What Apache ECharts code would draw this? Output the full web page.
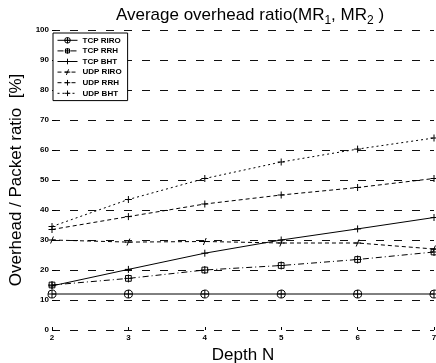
<!DOCTYPE html>
<html><head><meta charset="utf-8">
<script src="https://cdn.jsdelivr.net/npm/echarts@6/dist/echarts.min.js"></script>
<style>html,body{margin:0;padding:0;background:#fff}#c{width:436px;height:363px}</style>
</head><body><div id="c"></div>
<script>
const depths = [2, 3, 4, 5, 6, 7];
const tcpRIRO = [12, 12, 12, 12, 12, 12];
const tcpRRH  = [15, 17.2, 20, 21.5, 23.5, 26];
const tcpBHT  = [14.7, 20.2, 25.6, 30, 33.7, 37.5];
const udpRIRO = [30, 29.3, 29.5, 29, 29, 27];
const udpRRH  = [33.5, 37.8, 42, 45, 47.5, 50.5];
const udpBHT  = [34.5, 43.5, 50.5, 56, 60.3, 64];
const seriesNames = ['TCP RIRO', 'TCP RRH', 'TCP BHT', 'UDP RIRO', 'UDP RRH', 'UDP BHT'];

const pair = arr => depths.map((d, i) => [d, arr[i]]);
const PLUS = 'path://M0,5 L10,5 M5,0 L5,10';
const SLASH = 'path://M0,5 L10,5 M3,10 L7,0';
const CIRC_PLUS = 'path://M5,0 A5,5 0 1,1 4.99,0 Z M5,0 L5,10 M0,5 L10,5';
const SQ_PLUS = 'path://M0,0 L10,0 L10,10 L0,10 Z M5,-2 L5,12 M-2,5 L12,5';

function mk(name, data, lineType, symbol, size) {
  return {
    name, type: 'line', data: pair(data),
    symbol, symbolSize: size, showSymbol: true,
    lineStyle: { color: '#000', width: 1, type: lineType },
    itemStyle: { color: 'none', borderColor: '#000', borderWidth: 1 },
    emphasis: { disabled: true }, animation: false
  };
}

const chart = echarts.init(document.getElementById('c'));
chart.setOption({
  backgroundColor: '#fff',
  animation: false,
  title: {
    text: 'Average overhead ratio(MR{s|1}, MR{s|2} )',
    left: 245, textAlign: 'center', top: -1,
    textStyle: {
      fontFamily: 'Liberation Sans', fontSize: 17, fontWeight: 'normal', color: '#000',
      rich: { s: { fontFamily: 'Liberation Sans', fontSize: 12, padding: [11, 0, 0, 0], color: '#000' } }
    }
  },
  legend: {
    data: seriesNames,
    orient: 'vertical', left: 53, top: 33,
    itemWidth: 20, itemHeight: 7, itemGap: 0,
    padding: [2, 6, 2, 4],
    borderColor: '#000', borderWidth: 1,
    backgroundColor: '#fff',
    lineStyle: { width: 1 },
    itemStyle: { borderWidth: 1 },
    textStyle: { fontFamily: 'Liberation Sans', fontSize: 8, lineHeight: 9, color: '#000', fontWeight: 'bold' }
  },
  grid: { left: 52, right: 2, top: 30, bottom: 33, containLabel: false, outerBoundsMode: 'none' },
  xAxis: {
    type: 'value', min: 2, max: 7, interval: 1,
    name: 'Depth N', nameLocation: 'middle', nameGap: 13,
    nameTextStyle: { fontFamily: 'Liberation Sans', fontSize: 17, color: '#000' },
    axisLine: { show: false },
    axisTick: { show: true, inside: true, length: 3, lineStyle: { color: '#000' } },
    axisLabel: { fontFamily: 'Liberation Sans', fontSize: 8, fontWeight: 'bold', color: '#000', margin: 4 },
    splitLine: { show: false }
  },
  yAxis: {
    type: 'value', min: 0, max: 100, interval: 10,
    name: 'Overhead / Packet ratio  [%]', nameLocation: 'middle', nameGap: 20,
    nameTextStyle: { fontFamily: 'Liberation Sans', fontSize: 17, color: '#000' },
    axisLine: { show: false },
    axisTick: { show: true, inside: true, length: 4, lineStyle: { color: '#000' } },
    axisLabel: { fontFamily: 'Liberation Sans', fontSize: 8, fontWeight: 'bold', color: '#000', margin: 3 },
    splitLine: { show: true, lineStyle: { color: '#111', width: 1, type: [8, 10] } }
  },
  series: [
    mk('TCP RIRO', tcpRIRO, 'solid', CIRC_PLUS, 8),
    mk('TCP RRH', tcpRRH, [6, 3, 1, 3], SQ_PLUS, 8),
    mk('TCP BHT', tcpBHT, 'solid', PLUS, 7),
    mk('UDP RIRO', udpRIRO, [4, 3], SLASH, 7),
    mk('UDP RRH', udpRRH, [4, 3], PLUS, 7),
    mk('UDP BHT', udpBHT, [2, 3], PLUS, 7)
  ]
});
</script>
</body></html>
